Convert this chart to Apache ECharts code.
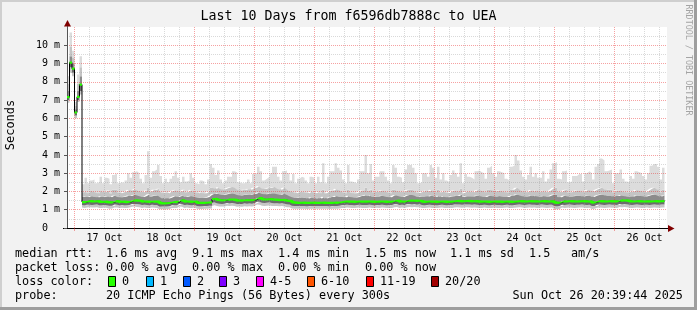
<!DOCTYPE html>
<html><head><meta charset="utf-8">
<script src="https://cdn.jsdelivr.net/npm/echarts@6/dist/echarts.min.js"></script>
<style>html,body{margin:0;padding:0;background:#f2f2f2}#c{width:697px;height:310px}</style>
</head><body><div id="c"></div>
<script>
// ---- data (hourly, first hour = 16 Oct 21:00) ----
const dayLabels = ['17 Oct','18 Oct','19 Oct','20 Oct','21 Oct','22 Oct','23 Oct','24 Oct','25 Oct','26 Oct'];
const yUnit = ' m';

const median = [
7.16,9.05,8.72,6.32,7.18,7.85,1.42,1.42,1.46,1.47,
1.45,1.46,1.47,1.43,1.43,1.44,1.42,1.40,1.40,1.47,
1.46,1.43,1.44,1.43,1.42,1.44,1.50,1.51,1.50,1.49,
1.44,1.45,1.44,1.43,1.45,1.44,1.44,1.36,1.35,1.35,
1.36,1.37,1.42,1.43,1.42,1.52,1.51,1.44,1.45,1.44,
1.43,1.45,1.38,1.37,1.37,1.38,1.39,1.40,1.58,1.60,
1.54,1.52,1.51,1.52,1.56,1.55,1.56,1.54,1.50,1.51,
1.50,1.53,1.52,1.53,1.52,1.55,1.64,1.63,1.57,1.56,
1.57,1.58,1.56,1.55,1.54,1.53,1.54,1.52,1.49,1.48,
1.40,1.39,1.38,1.38,1.39,1.38,1.37,1.38,1.39,1.38,
1.38,1.38,1.39,1.38,1.38,1.37,1.38,1.39,1.38,1.40,
1.43,1.44,1.45,1.44,1.44,1.43,1.44,1.45,1.44,1.44,
1.44,1.45,1.44,1.43,1.44,1.44,1.45,1.44,1.43,1.44,
1.44,1.49,1.50,1.44,1.45,1.44,1.49,1.50,1.49,1.50,
1.48,1.49,1.44,1.43,1.44,1.45,1.44,1.44,1.43,1.44,
1.45,1.44,1.43,1.44,1.44,1.47,1.48,1.47,1.46,1.47,
1.48,1.47,1.46,1.47,1.46,1.44,1.44,1.45,1.44,1.43,
1.44,1.45,1.44,1.44,1.43,1.44,1.45,1.44,1.43,1.44,
1.46,1.47,1.46,1.45,1.46,1.47,1.46,1.46,1.45,1.46,
1.47,1.46,1.45,1.46,1.46,1.39,1.38,1.39,1.46,1.45,
1.46,1.47,1.46,1.45,1.46,1.46,1.47,1.46,1.45,1.46,
1.39,1.40,1.46,1.47,1.46,1.45,1.46,1.47,1.46,1.46,
1.45,1.51,1.50,1.51,1.50,1.46,1.45,1.46,1.47,1.46,
1.45,1.46,1.46,1.45,1.46,1.47,1.46,1.46,1.47];

const smokeMax = [
8.3,10.7,9.7,6.9,8.4,9.4,2.4,2.75,2.45,2.6,
2.65,2.45,2.5,2.8,2.45,2.75,2.7,2.4,2.9,3.0,
2.45,2.5,2.45,2.6,3.0,2.75,3.05,3.1,3.0,2.7,
2.45,2.9,4.2,2.75,3.1,3.2,3.45,2.85,2.45,2.7,
2.5,2.7,2.85,3.1,2.75,2.5,2.8,2.55,2.6,3.0,
2.75,2.45,2.4,2.6,2.55,2.4,2.65,3.5,3.3,2.9,
3.15,2.65,2.45,2.6,2.8,2.8,3.1,3.05,2.5,2.45,
2.45,2.5,2.65,2.45,2.95,3.0,3.35,3.1,2.6,2.7,
2.8,3.0,3.35,3.35,2.8,2.6,3.1,3.15,3.0,2.6,
2.95,2.45,2.7,2.8,2.75,2.6,2.45,2.8,2.75,2.45,
2.8,2.5,3.55,2.45,2.8,3.1,3.1,3.55,3.3,3.15,
2.65,2.45,3.45,2.55,2.5,2.45,2.65,3.1,3.1,4.0,
3.0,3.5,2.6,2.8,2.8,3.1,3.1,2.8,2.6,2.45,
3.45,3.3,2.8,2.75,2.5,3.2,3.45,3.45,3.3,3.0,
2.45,2.5,3.0,3.0,2.8,3.45,3.3,2.75,3.35,2.65,
3.0,2.6,2.5,2.9,3.15,3.0,2.8,3.55,2.45,2.95,
2.8,2.75,2.65,3.1,3.15,3.05,3.0,2.7,3.3,3.4,
3.0,2.8,3.1,3.05,3.0,2.7,2.6,3.35,3.4,4.0,
3.7,3.15,2.8,2.65,2.9,3.35,2.8,3.0,2.75,2.75,
3.1,2.55,2.7,3.2,3.55,3.6,2.7,2.65,3.1,3.15,
2.5,2.55,2.85,2.85,2.95,2.95,2.55,3.0,3.1,3.0,
2.65,3.35,3.5,3.8,3.7,3.1,3.15,3.2,2.45,3.0,
3.0,3.2,2.7,2.55,2.5,2.85,2.7,3.1,3.05,3.0,
2.85,2.65,3.0,3.4,3.5,3.5,3.35,2.65,3.3];

const smokeHi = [
7.9,9.9,9.3,6.7,7.9,8.8,1.95,2.0,1.9,2.05,
2.0,1.95,1.9,2.05,1.95,2.0,2.05,1.9,2.1,2.1,
1.95,1.9,1.95,2.0,2.1,2.05,2.1,2.15,2.05,2.0,
1.95,2.05,2.2,2.0,2.1,2.1,2.15,2.0,1.9,1.95,
1.9,2.0,2.05,2.1,2.0,2.0,2.1,1.95,2.0,2.1,
2.0,1.95,1.9,1.95,1.9,1.9,2.0,2.2,2.2,2.15,
2.25,2.15,2.1,2.15,2.2,2.25,2.25,2.2,2.1,2.05,
2.1,2.1,2.15,2.1,2.2,2.2,2.3,2.25,2.15,2.15,
2.2,2.2,2.25,2.25,2.15,2.1,2.2,2.2,2.1,2.0,
2.0,1.9,1.95,2.0,1.95,1.95,1.9,2.0,1.95,1.9,
2.0,1.9,2.1,1.9,2.0,2.05,2.05,2.15,2.1,2.05,
1.95,1.9,2.1,1.95,1.9,1.9,1.95,2.05,2.05,2.2,
2.05,2.1,1.95,2.0,2.0,2.05,2.05,2.0,1.95,1.9,
2.1,2.1,2.0,2.0,1.95,2.05,2.1,2.1,2.1,2.0,
1.9,1.95,2.0,2.05,2.0,2.1,2.05,1.95,2.1,1.95,
2.05,1.95,1.9,2.0,2.05,2.05,2.0,2.15,1.9,2.0,
2.0,2.0,1.95,2.05,2.1,2.05,2.05,1.95,2.1,2.1,
2.05,2.0,2.05,2.05,2.0,1.95,1.95,2.1,2.1,2.2,
2.2,2.1,2.0,1.95,2.0,2.1,2.0,2.05,2.0,2.0,
2.05,1.95,2.0,2.1,2.2,2.2,2.0,1.95,2.05,2.1,
1.95,1.95,2.0,2.05,2.05,2.05,1.95,2.05,2.1,2.05,
2.0,2.1,2.15,2.2,2.2,2.1,2.1,2.1,1.95,2.05,
2.05,2.1,2.0,1.95,1.95,2.0,2.0,2.1,2.05,2.05,
2.0,1.95,2.05,2.15,2.2,2.2,2.1,1.95,2.1];

const smokeQ3 = [
7.5,9.4,9.0,6.5,7.5,8.3,1.7,1.72,1.7,1.75,
1.72,1.7,1.68,1.74,1.7,1.72,1.75,1.68,1.76,1.78,
1.7,1.68,1.7,1.72,1.78,1.75,1.8,1.82,1.78,1.74,
1.7,1.75,1.85,1.72,1.76,1.78,1.8,1.7,1.62,1.65,
1.62,1.66,1.72,1.76,1.7,1.75,1.78,1.7,1.72,1.76,
1.72,1.7,1.65,1.66,1.64,1.65,1.7,1.8,1.88,1.86,
1.9,1.84,1.8,1.84,1.88,1.9,1.9,1.86,1.8,1.78,
1.8,1.82,1.84,1.82,1.86,1.88,1.95,1.92,1.86,1.85,
1.88,1.9,1.9,1.9,1.85,1.82,1.88,1.86,1.8,1.74,
1.68,1.64,1.66,1.68,1.66,1.65,1.62,1.68,1.66,1.62,
1.66,1.62,1.72,1.62,1.66,1.7,1.7,1.76,1.72,1.7,
1.7,1.68,1.78,1.7,1.68,1.67,1.7,1.75,1.76,1.82,
1.74,1.78,1.7,1.72,1.72,1.76,1.76,1.72,1.7,1.68,
1.78,1.8,1.76,1.72,1.7,1.76,1.8,1.8,1.8,1.76,
1.7,1.72,1.72,1.75,1.72,1.78,1.76,1.7,1.78,1.7,
1.75,1.7,1.68,1.72,1.74,1.76,1.75,1.82,1.7,1.74,
1.74,1.74,1.72,1.76,1.78,1.74,1.72,1.7,1.76,1.78,
1.74,1.72,1.75,1.74,1.72,1.7,1.7,1.78,1.78,1.84,
1.84,1.78,1.74,1.72,1.74,1.78,1.74,1.76,1.72,1.73,
1.76,1.72,1.73,1.78,1.84,1.82,1.7,1.68,1.76,1.78,
1.72,1.72,1.74,1.76,1.76,1.76,1.72,1.76,1.78,1.76,
1.7,1.76,1.8,1.84,1.84,1.78,1.78,1.78,1.72,1.76,
1.75,1.8,1.76,1.74,1.73,1.74,1.73,1.78,1.76,1.76,
1.74,1.72,1.76,1.8,1.84,1.84,1.78,1.72,1.78];

const smokeLo = [
7.0,8.8,8.5,6.15,7.0,7.5,1.26,1.25,1.27,1.27,
1.26,1.27,1.28,1.25,1.25,1.26,1.24,1.22,1.22,1.28,
1.27,1.25,1.26,1.25,1.24,1.26,1.31,1.32,1.31,1.3,
1.26,1.27,1.26,1.25,1.27,1.26,1.26,1.18,1.17,1.17,
1.18,1.19,1.24,1.25,1.24,1.33,1.32,1.26,1.27,1.26,
1.25,1.27,1.2,1.19,1.19,1.2,1.21,1.22,1.38,1.4,
1.35,1.33,1.32,1.33,1.37,1.36,1.37,1.35,1.31,1.32,
1.31,1.34,1.33,1.34,1.33,1.36,1.44,1.43,1.38,1.37,
1.38,1.39,1.37,1.36,1.35,1.34,1.35,1.33,1.3,1.29,
1.22,1.21,1.2,1.2,1.21,1.2,1.19,1.2,1.21,1.2,
1.2,1.2,1.21,1.2,1.2,1.19,1.2,1.21,1.2,1.22,
1.25,1.26,1.27,1.26,1.26,1.25,1.26,1.27,1.26,1.26,
1.26,1.27,1.26,1.25,1.26,1.26,1.27,1.26,1.25,1.26,
1.26,1.3,1.31,1.26,1.27,1.26,1.3,1.31,1.3,1.31,
1.29,1.3,1.26,1.25,1.26,1.27,1.26,1.26,1.25,1.26,
1.27,1.26,1.25,1.26,1.26,1.28,1.29,1.28,1.27,1.28,
1.29,1.28,1.27,1.28,1.27,1.26,1.26,1.27,1.26,1.25,
1.26,1.27,1.26,1.26,1.25,1.26,1.27,1.26,1.25,1.26,
1.27,1.28,1.27,1.26,1.27,1.28,1.27,1.27,1.26,1.27,
1.28,1.27,1.26,1.27,1.27,1.2,1.19,1.2,1.27,1.26,
1.27,1.28,1.27,1.26,1.27,1.27,1.28,1.27,1.26,1.27,
1.2,1.21,1.27,1.28,1.27,1.26,1.27,1.28,1.27,1.27,
1.26,1.31,1.3,1.31,1.3,1.27,1.26,1.27,1.28,1.27,
1.26,1.27,1.27,1.26,1.27,1.28,1.27,1.27,1.28];

const smokeMin = [
6.85,8.5,8.3,6.0,6.9,7.3,1.12,1.1,1.12,1.13,
1.12,1.12,1.13,1.1,1.1,1.12,1.1,1.06,1.07,1.12,
1.12,1.1,1.11,1.1,1.09,1.12,1.16,1.17,1.15,1.14,
1.1,1.12,1.1,1.1,1.12,1.11,1.1,1.03,1.02,1.02,
1.03,1.04,1.09,1.1,1.09,1.18,1.16,1.1,1.12,1.1,
1.1,1.12,1.05,1.04,1.04,1.05,1.06,1.07,1.2,1.24,
1.2,1.18,1.17,1.18,1.22,1.2,1.22,1.2,1.16,1.17,
1.16,1.19,1.18,1.19,1.18,1.2,1.28,1.27,1.22,1.21,
1.22,1.23,1.21,1.2,1.2,1.19,1.2,1.18,1.14,1.13,
1.07,1.06,1.05,1.05,1.06,1.05,1.04,1.05,1.06,1.05,
1.05,1.05,1.06,1.05,1.05,1.04,1.05,1.06,1.05,1.07,
1.1,1.1,1.12,1.11,1.1,1.1,1.11,1.12,1.1,1.1,
1.1,1.12,1.1,1.1,1.11,1.1,1.12,1.11,1.1,1.1,
1.1,1.14,1.15,1.1,1.12,1.1,1.14,1.15,1.14,1.15,
1.13,1.14,1.1,1.1,1.11,1.12,1.1,1.1,1.1,1.11,
1.12,1.1,1.1,1.11,1.1,1.12,1.13,1.12,1.11,1.12,
1.13,1.12,1.11,1.12,1.11,1.1,1.1,1.12,1.1,1.1,
1.1,1.12,1.1,1.1,1.1,1.11,1.12,1.1,1.1,1.11,
1.12,1.13,1.12,1.1,1.11,1.12,1.11,1.12,1.1,1.11,
1.12,1.11,1.1,1.11,1.12,1.04,1.03,1.04,1.12,1.1,
1.11,1.12,1.11,1.1,1.11,1.12,1.12,1.11,1.1,1.11,
1.04,1.05,1.11,1.12,1.11,1.1,1.11,1.12,1.11,1.11,
1.1,1.15,1.14,1.15,1.14,1.11,1.1,1.11,1.12,1.11,
1.1,1.11,1.12,1.1,1.11,1.12,1.11,1.11,1.12];

// legend texts
const rttLabel = 'median rtt:';
const rttStats = ['1.6 ms avg','9.1 ms max','1.4 ms min','1.5 ms now','1.1 ms sd','1.5','am/s'];
const lossLabel = 'packet loss:';
const lossStats = ['0.00 % avg','0.00 % max','0.00 % min','0.00 % now'];
const lossColorLabel = 'loss color:';
const lossNames = ['0','1','2','3','4-5','6-10','11-19','20/20'];
const lossColors = ['#26ff00','#00b8ff','#0059ff','#7e00ff','#ff00ff','#ff5500','#ff0000','#a10000'];
const probeLabel = 'probe:';
const probeText = '20 ICMP Echo Pings (56 Bytes) every 300s';
const stampText = 'Sun Oct 26 20:39:44 2025';
const titleText = 'Last 10 Days from f6596db7888c to UEA';

// ---- build ----
const hours = [];
for (let i = 0; i <= 240; i++) hours.push(String(i));
const ext = a => a.concat([a[a.length - 1]]);

const layers = [smokeMin, smokeLo, median, smokeQ3, smokeHi, smokeMax];
const bandColors = [null, '#c6c6c6', '#6c6c6c', '#8c8c8c', '#c4c4c4', '#dcdcdc'];
const tops = [];
layers.forEach((arr, k) => {
  const prev = tops[k - 1];
  tops.push(arr.map((v, i) => prev ? Math.max(v, prev[i]) : v));
});
const series = tops.map((t, k) => {
  const s = {
    type: 'line', stack: 'smoke', step: 'end', symbol: 'none', silent: true, z: 1,
    data: ext(k === 0 ? t : t.map((v, i) => v - tops[k - 1][i])),
    lineStyle: { width: 0, opacity: 0 }
  };
  if (k > 0) s.areaStyle = { color: bandColors[k], opacity: 1 };
  return s;
});
series.push({
  type: 'line', step: 'end', symbol: 'none', silent: true, z: 4,
  data: ext(median), lineStyle: { color: '#000', width: 1 }
});
const half = 0.06;
series.push({
  type: 'line', stack: 'med', step: 'end', symbol: 'none', silent: true, z: 5,
  data: ext(median.map(v => v - half)), lineStyle: { width: 0, opacity: 0 }
});
series.push({
  type: 'line', stack: 'med', step: 'end', symbol: 'none', silent: true, z: 5,
  data: ext(median.map(() => 2 * half)), lineStyle: { width: 0, opacity: 0 },
  areaStyle: { color: lossColors[0], opacity: 1 }
});

const mono = '"DejaVu Sans Mono", monospace';
const legendFont = '11.8px ' + mono;
const gfx = [];
const txt = (x, y, s, extra) => gfx.push(Object.assign({
  type: 'text', x: x, y: y, silent: true,
  style: { text: s, font: legendFont, fill: '#000', align: 'left', verticalAlign: 'middle' }
}, extra || {}));

// frame
gfx.push({ type: 'rect', silent: true, shape: { x: 0, y: 0, width: 697, height: 2 }, style: { fill: '#cfcfcf' } });
gfx.push({ type: 'rect', silent: true, shape: { x: 0, y: 0, width: 2, height: 310 }, style: { fill: '#cfcfcf' } });
gfx.push({ type: 'rect', silent: true, shape: { x: 0, y: 307, width: 697, height: 3 }, style: { fill: '#9e9e9e' } });
gfx.push({ type: 'rect', silent: true, shape: { x: 694, y: 0, width: 3, height: 310 }, style: { fill: '#9e9e9e' } });
// axis extensions + arrows
gfx.push({ type: 'line', silent: true, shape: { x1: 67.5, y1: 27, x2: 67.5, y2: 23 }, style: { stroke: '#555', lineWidth: 1 } });
gfx.push({ type: 'polygon', silent: true, shape: { points: [[64, 26.5], [71, 26.5], [67.5, 20]] }, style: { fill: '#800000' } });
gfx.push({ type: 'line', silent: true, shape: { x1: 63, y1: 228.5, x2: 67, y2: 228.5 }, style: { stroke: '#000', lineWidth: 1 } });
gfx.push({ type: 'line', silent: true, shape: { x1: 667, y1: 228.5, x2: 669, y2: 228.5 }, style: { stroke: '#000', lineWidth: 1 } });
gfx.push({ type: 'polygon', silent: true, shape: { points: [[668, 225], [668, 232], [674.5, 228.5]] }, style: { fill: '#800000' } });
// rotated texts
gfx.push({ type: 'text', silent: true, x: 10.5, y: 125, rotation: Math.PI / 2,
  style: { text: 'Seconds', font: '12px ' + mono, fill: '#000', align: 'center', verticalAlign: 'middle' } });
gfx.push({ type: 'text', silent: true, x: 688, y: 60, rotation: -Math.PI / 2,
  style: { text: 'RRDTOOL / TOBI OETIKER', font: '8.4px ' + mono, fill: '#a4a4a4', align: 'center', verticalAlign: 'middle' } });

// legend rows
const rowY = [254.3, 268.3, 282.3, 296];
const statX = [106, 192, 278, 365, 450, 529, 571];
txt(15, rowY[0], rttLabel);
rttStats.forEach((s, i) => txt(statX[i], rowY[0], s));
txt(15, rowY[1], lossLabel);
lossStats.forEach((s, i) => txt(statX[i], rowY[1], s));
txt(15, rowY[2], lossColorLabel);
const boxX = [108, 145.7, 182.7, 219, 256, 306.7, 365.7, 430.7];
lossNames.forEach((s, i) => {
  gfx.push({ type: 'rect', silent: true, shape: { x: Math.round(boxX[i]) + 0.5, y: 276.5, width: 7, height: 10 },
    style: { fill: lossColors[i], stroke: '#000', lineWidth: 1 } });
  txt(Math.round(boxX[i]) + 14, rowY[2], s);
});
txt(15, rowY[3], probeLabel);
txt(106, rowY[3], probeText);
txt(512.5, rowY[3], stampText);

const gridRed = 'rgba(235,50,50,0.46)';
const gridGray = 'rgba(150,150,150,0.36)';
const option = {
  animation: false,
  backgroundColor: '#f2f2f2',
  title: {
    text: titleText, left: 'center', top: 10, padding: 0,
    textStyle: { fontFamily: mono, fontSize: 13.3, fontWeight: 'normal', color: '#000' }
  },
  grid: { left: 67, top: 27, width: 600, height: 201, show: true, backgroundColor: '#ffffff', borderWidth: 0 },
  xAxis: [
    {
      type: 'category', data: hours, boundaryGap: false, z: 3,
      axisLine: { show: true, onZero: false, lineStyle: { color: '#000', width: 1 } },
      axisTick: { show: false },
      axisLabel: {
        interval: (i) => i >= 15 && (i - 15) % 24 === 0,
        formatter: (v, i) => dayLabels[(i - 15) / 24],
        fontFamily: mono, fontSize: 10, color: '#000', margin: 5
      },
      splitLine: {
        show: true,
        interval: (i) => i > 3 && (i - 3) % 6 === 0 && (i - 3) % 24 !== 0,
        lineStyle: { color: gridGray, type: [1, 1], width: 1 }
      }
    },
    {
      type: 'category', data: hours, boundaryGap: false, z: 3, position: 'bottom',
      axisLine: { show: false, onZero: false },
      axisLabel: { show: false },
      axisTick: { show: true, length: 3, interval: (i) => i >= 3 && (i - 3) % 24 === 0, lineStyle: { color: gridRed } },
      splitLine: {
        show: true,
        interval: (i) => i >= 3 && (i - 3) % 24 === 0,
        lineStyle: { color: gridRed, type: [1, 1], width: 1 }
      }
    }
  ],
  yAxis: {
    type: 'value', min: 0, max: 11, interval: 1, z: 3,
    axisLine: { show: true, lineStyle: { color: '#555', width: 1 } },
    axisTick: { show: true, length: 3, lineStyle: { color: '#555' } },
    axisLabel: {
      formatter: v => v === 0 ? '0  ' : v + yUnit, showMaxLabel: false,
      fontFamily: mono, fontSize: 10, color: '#000', margin: 7
    },
    splitLine: { show: true, showMinLine: false, showMaxLine: false, lineStyle: { color: gridRed, type: [1, 1], width: 1 } },
    minorTick: { show: false, splitNumber: 2 },
    minorSplitLine: { show: true, lineStyle: { color: gridGray, type: [1, 1], width: 1 } }
  },
  series: series,
  graphic: gfx
};
const chart = echarts.init(document.getElementById('c'), null, { renderer: 'canvas' });
chart.setOption(option);
</script>
</body></html>
